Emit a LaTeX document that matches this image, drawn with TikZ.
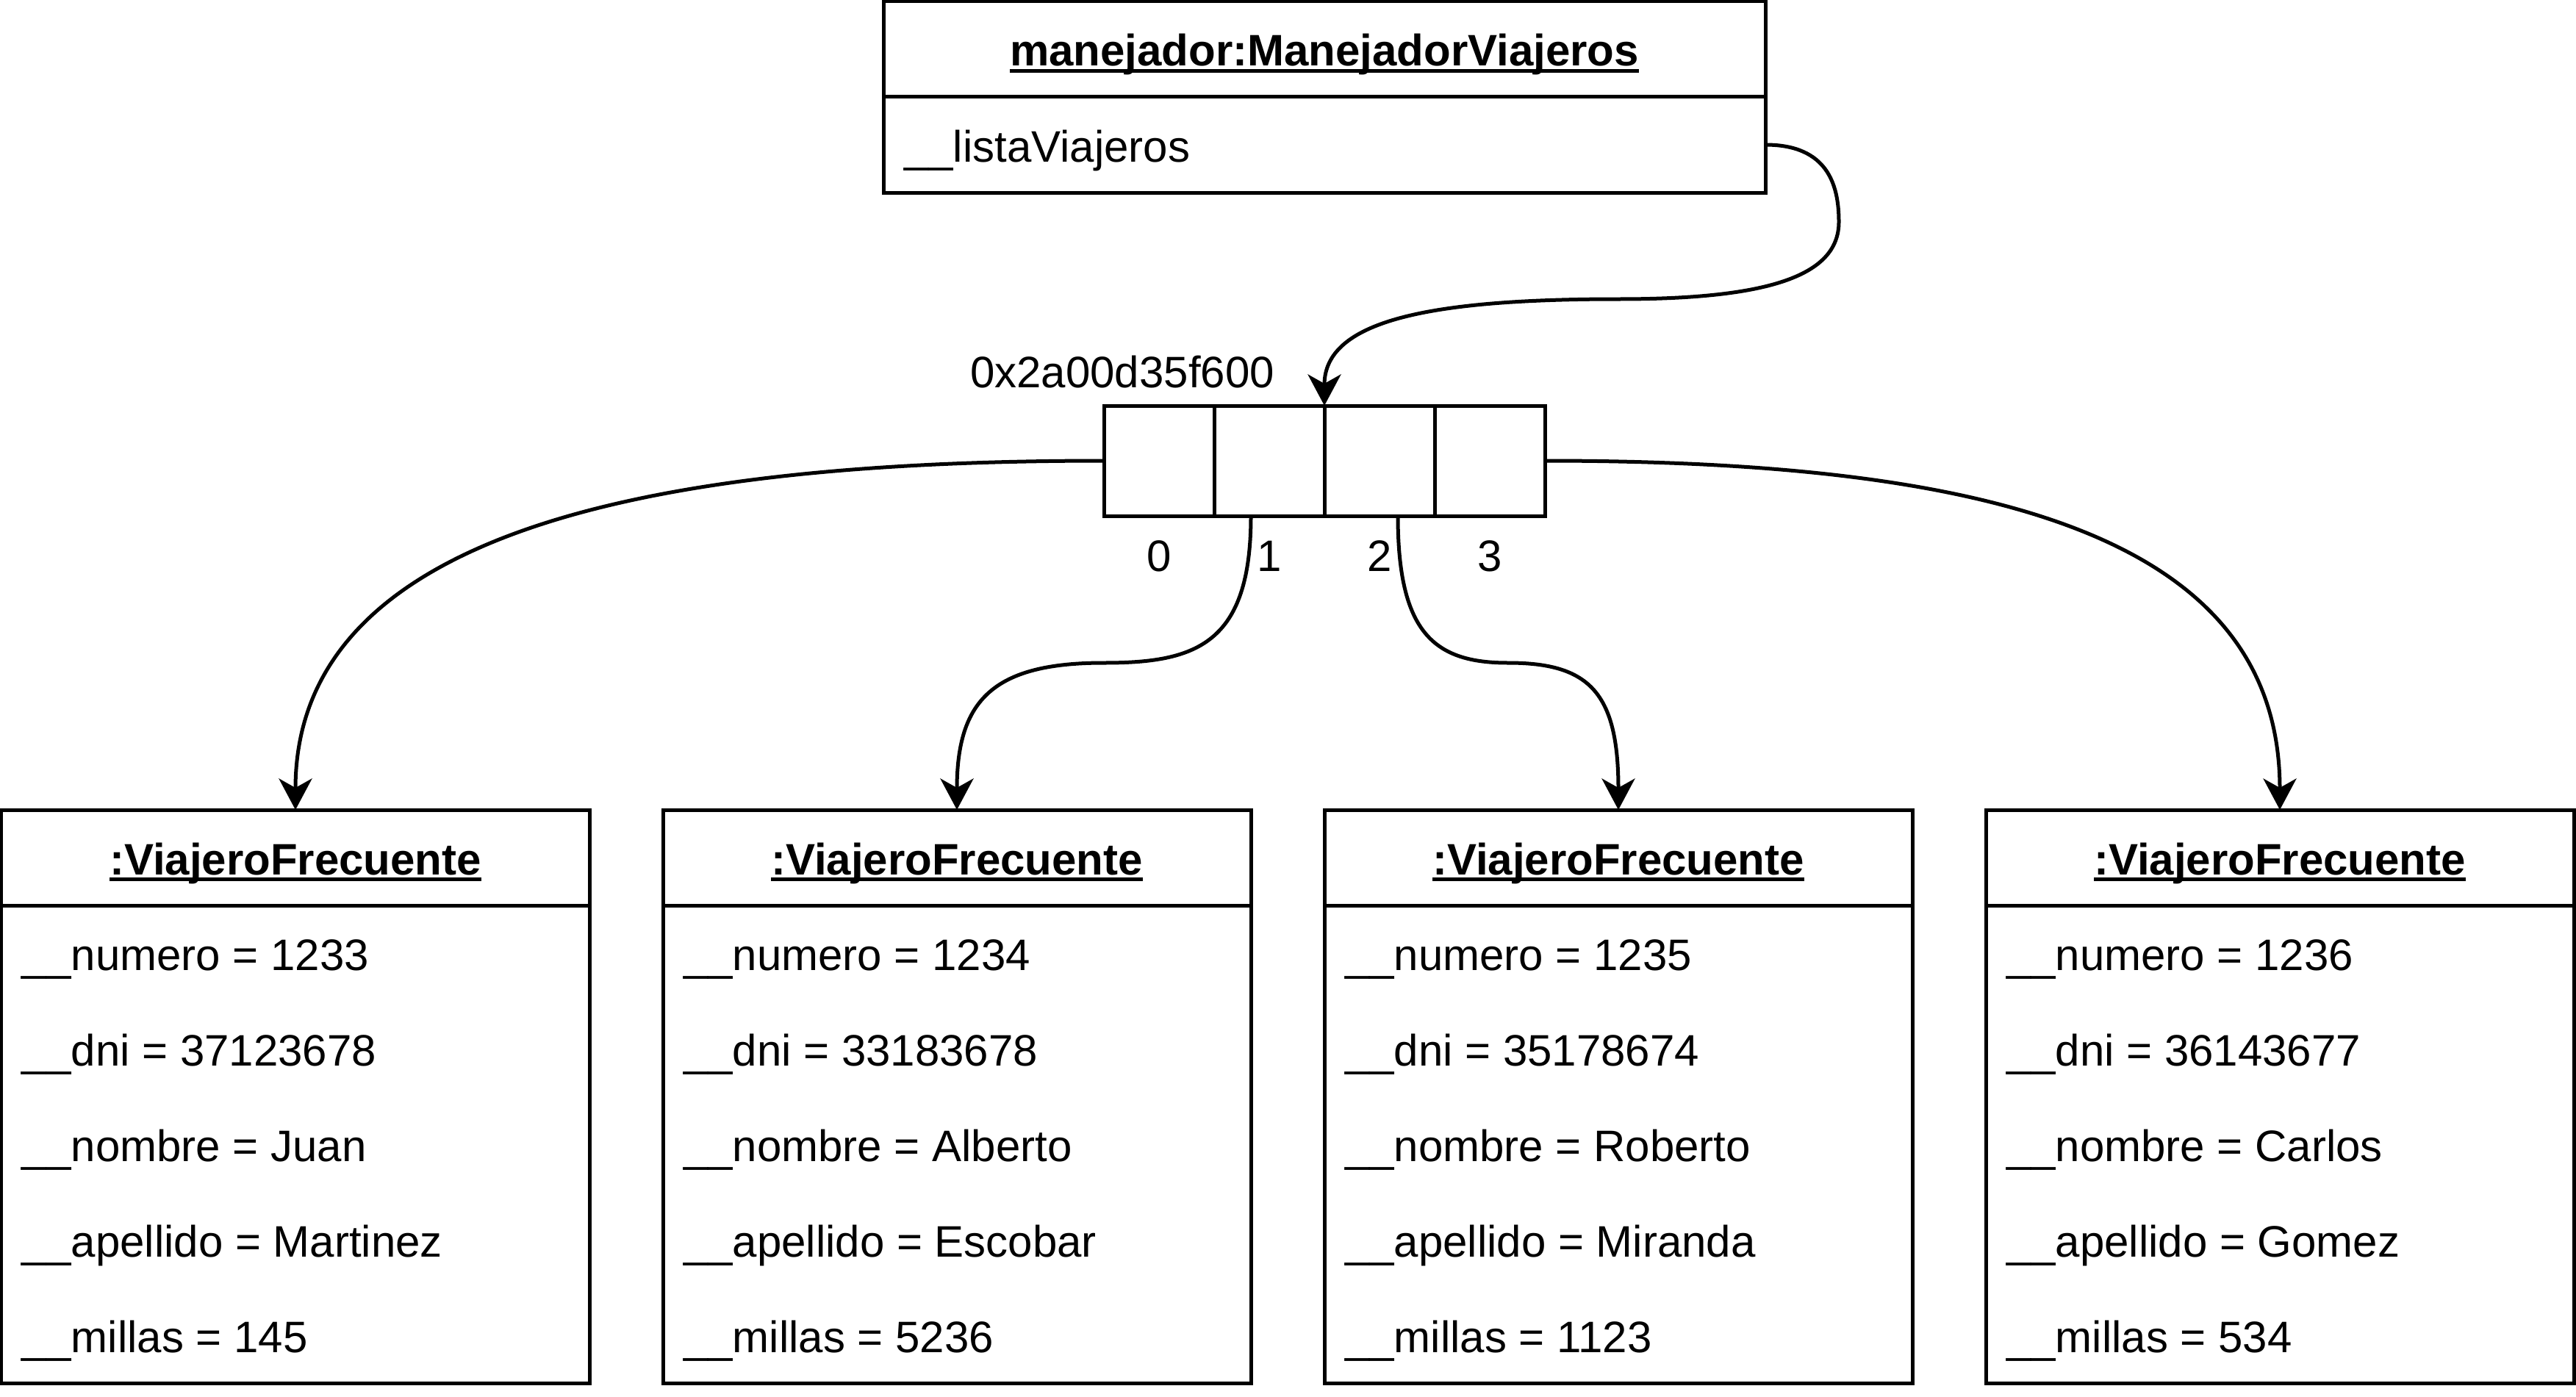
\documentclass[tikz,border=0pt]{standalone}
\usepackage{fontspec}
\setmainfont{Liberation Sans}
\usetikzlibrary{arrows.meta}
\newcommand\myul[1]{\setbox0\hbox{#1}\rlap{\rule[-1.7pt]{\wd0}{0.85pt}}\box0}
\begin{document}
\begin{tikzpicture}[x=1pt,y=-1pt,line width=1pt,
  box/.style={draw,line width=1pt,inner sep=0pt,outer sep=0pt,anchor=north west},
  attr/.style={anchor=base west,inner sep=0pt,font=\fontsize{12}{14}\selectfont},
  head/.style={anchor=base,inner sep=0pt,font=\fontsize{12}{14}\selectfont\bfseries},
  lbl/.style={anchor=base,inner sep=0pt,font=\fontsize{12}{14}\selectfont},
  link/.style={line width=1pt,-{Stealth[length=8.5pt,width=9pt,inset=2.5pt]}}]
\useasboundingbox (-0.4,-0.4) rectangle (700.6,379.6);

% manager object
\node[box,minimum width=240pt,minimum height=26pt] (mgrh) at (240,0) {};
\node[box,minimum width=240pt,minimum height=26pt] (mgrb) at (240,26) {};
\node[head] (mgrt) at ([yshift=-4.6pt]mgrh.center) {\myul{manejador:ManejadorViajeros}};
\node[attr] (mgra) at (245.1,43.6) {\_\_listaViajeros};

% array
\foreach \k in {0,1,2,3}{
  \node[box,minimum width=30pt,minimum height=30pt] (c\k) at (300+30*\k,110) {};
  \node[lbl] (i\k) at (315+30*\k,155) {\k};
}
\node[lbl] (addr) at (305,105) {0x2a00d35f600};

% traveller objects
\foreach \i/\x/\num/\dni/\nom/\ape/\mil in {
  1/0/1233/37123678/Juan/Martinez/145,
  2/180/1234/33183678/Alberto/Escobar/5236,
  3/360/1235/35178674/Roberto/Miranda/1123,
  4/540/1236/36143677/Carlos/Gomez/534}{
  \node[box,minimum width=160pt,minimum height=26pt] (v\i h) at (\x,220) {};
  \node[box,minimum width=160pt,minimum height=130pt] (v\i b) at (\x,246) {};
  \node[head] (v\i t) at ([yshift=-4.6pt]v\i h.center) {\myul{:ViajeroFrecuente}};
  \node[attr] (v\i a1) at (\x+5.1,263.6) {\_\_numero = \num};
  \node[attr] (v\i a2) at (\x+5.1,289.6) {\_\_dni = \dni};
  \node[attr] (v\i a3) at (\x+5.1,315.6) {\_\_nombre = \nom};
  \node[attr] (v\i a4) at (\x+5.1,341.6) {\_\_apellido = \ape};
  \node[attr] (v\i a5) at (\x+5.1,367.6) {\_\_millas = \mil};
}

% waypoints
\coordinate (w1) at (500,60);
\coordinate (w2) at (440,81);
\coordinate (m1) at (300,180);
\coordinate (m2) at (410,180);
\coordinate (s1) at ([xshift=-5pt]c1.south);
\coordinate (s2) at ([xshift=5pt]c2.south);

% connectors
\draw[link] (mgrb.east) .. controls (497,39) and (500,50) .. (w1)
  .. controls (500,75) and (480,81) .. (w2)
  .. controls (388,81) and (360,87) .. (c1.north east);
\draw[link] (c0.west) .. controls (180,125) and (80,143) .. (v1h.north);
\draw[link] (c3.east) .. controls (540,125) and (620,145) .. (v4h.north);
\draw[link] (s1) .. controls (340,175) and (325,180) .. (m1)
  .. controls (270,180) and (260,190) .. (v2h.north);
\draw[link] (s2) .. controls (380,172) and (390,180) .. (m2)
  .. controls (432,180) and (440,188) .. (v3h.north);
\end{tikzpicture}
\end{document}
